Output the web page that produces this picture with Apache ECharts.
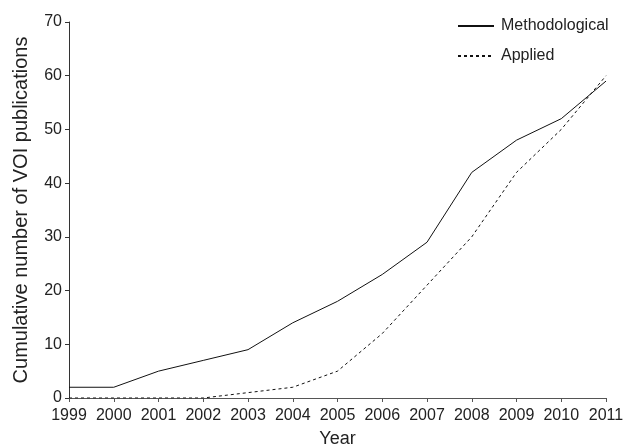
<!DOCTYPE html>
<html>
<head>
<meta charset="utf-8">
<script src="https://cdn.jsdelivr.net/npm/echarts@6/dist/echarts.min.js"></script>
<style>
  html, body { margin: 0; padding: 0; background: #fff; }
  #main { width: 630px; height: 448px; }
</style>
</head>
<body>
<div id="main"></div>
<script>
const years = ['1999', '2000', '2001', '2002', '2003', '2004', '2005', '2006', '2007', '2008', '2009', '2010', '2011'];
const methodological = [2, 2, 5, 7, 9, 14, 18, 23, 29, 42, 48, 52, 59];
const applied = [0, 0, 0, 0, 1, 2, 5, 12, 21, 30, 42, 50, 60];

const chart = echarts.init(document.getElementById('main'));

const font = 'Liberation Sans, Arial, sans-serif';

let option = {
    animation: false,
    textStyle: { fontFamily: font },
    grid: {
        left: 69,
        right: 24,
        top: 22,
        bottom: 50,
        outerBoundsMode: 'none'
    },
    legend: {
        orient: 'vertical',
        left: 452,
        top: 13,
        itemWidth: 36,
        itemHeight: 16,
        itemGap: 14,
        itemStyle: { opacity: 0 },
        textStyle: { fontSize: 16, color: '#222', fontFamily: font, padding: [0, 0, 0, 2] },
        data: ['Methodological', 'Applied']
    },
    xAxis: {
        type: 'category',
        data: years,
        boundaryGap: false,
        name: 'Year',
        nameLocation: 'middle',
        nameGap: 32,
        nameTextStyle: { fontSize: 18, color: '#222' },
        axisLine: { lineStyle: { color: '#555', width: 1 } },
        axisTick: { alignWithLabel: true, length: 4, lineStyle: { color: '#555' } },
        axisLabel: { fontSize: 16, color: '#222', margin: 10, interval: 0 },
        splitLine: { show: false }
    },
    yAxis: {
        type: 'value',
        min: 0,
        max: 70,
        interval: 10,
        name: 'Cumulative number of VOI publications',
        nameLocation: 'middle',
        nameGap: 38,
        nameTextStyle: { fontSize: 20, color: '#222' },
        axisLine: { show: true, lineStyle: { color: '#333', width: 1 } },
        axisTick: { show: true, length: 4, lineStyle: { color: '#333' } },
        axisLabel: { fontSize: 16, color: '#222', margin: 7 },
        splitLine: { show: false }
    },
    series: [
        {
            name: 'Methodological',
            type: 'line',
            data: methodological,
            symbol: 'none',
            lineStyle: { color: '#111', width: 1 },
            itemStyle: { color: '#111' }
        },
        {
            name: 'Applied',
            type: 'line',
            data: applied,
            symbol: 'none',
            lineStyle: { color: '#111', width: 1, type: [3, 3] },
            itemStyle: { color: '#111' }
        }
    ]
};

chart.setOption(option);
</script>
</body>
</html>
